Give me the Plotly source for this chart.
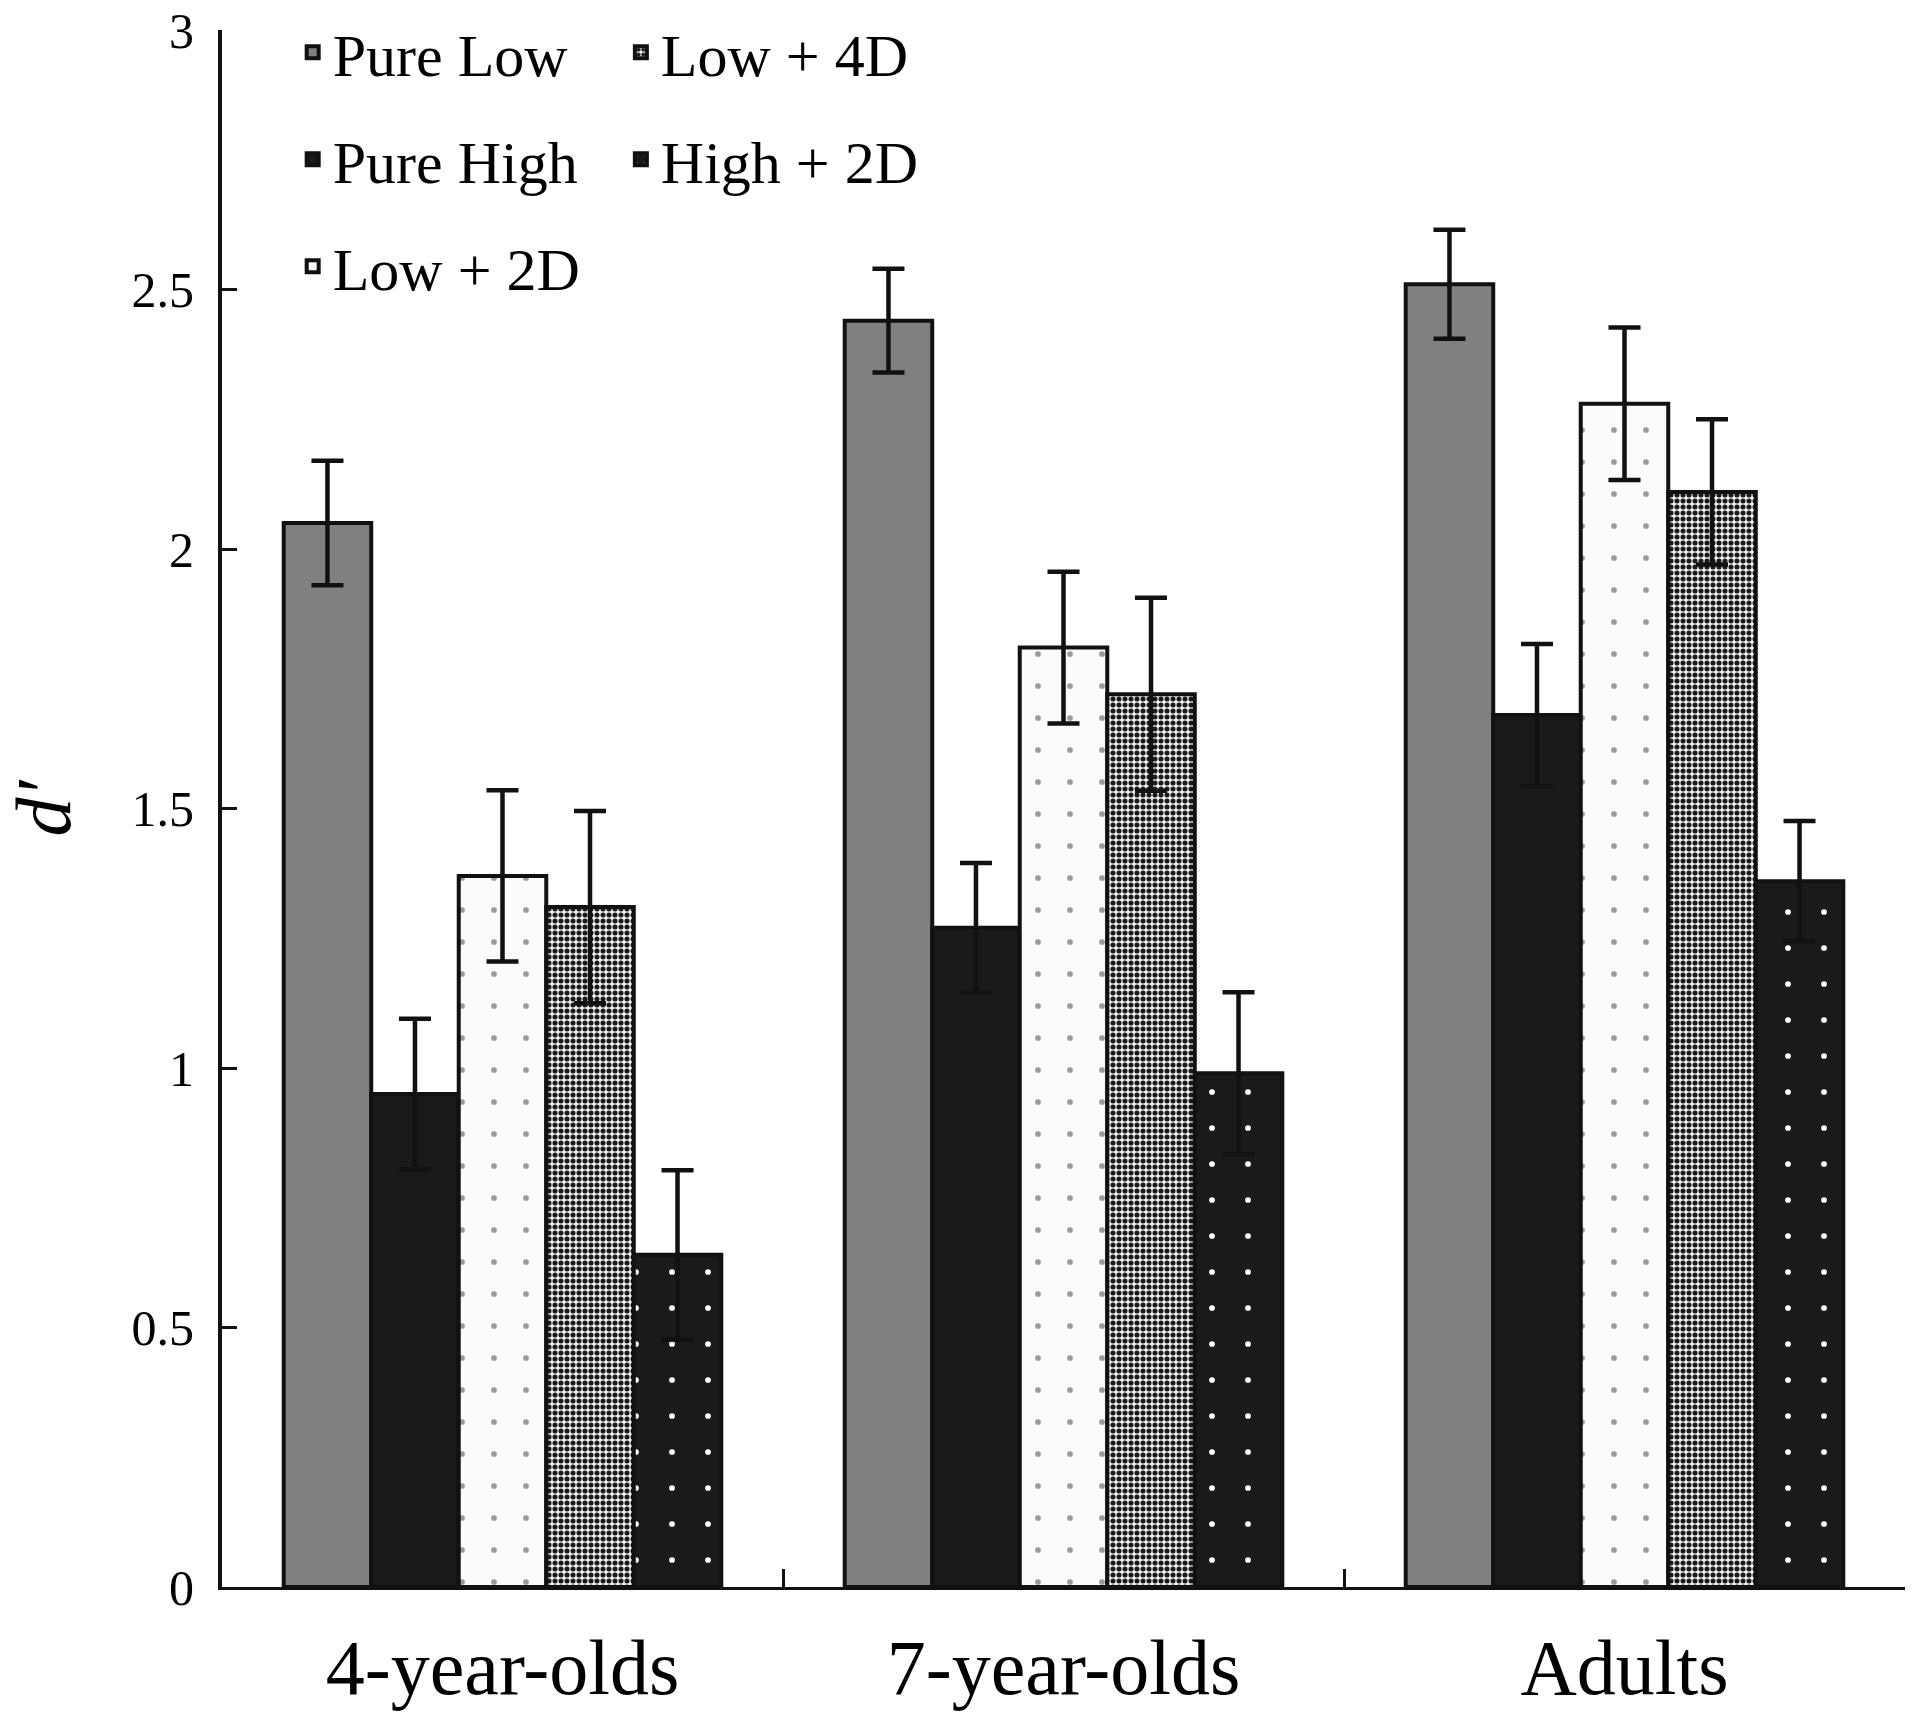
import plotly.graph_objects as go

# age groups on the x axis
groups = ["4-year-olds", "7-year-olds", "Adults"]

# mean d' for each condition
pure_low = [2.05, 2.44, 2.51]
pure_high = [0.95, 1.27, 1.68]
low_2d = [1.37, 1.81, 2.28]
low_4d = [1.31, 1.72, 2.11]
high_2d = [0.64, 0.99, 1.36]

# error bar half-lengths
pure_low_err = [0.12, 0.10, 0.105]
pure_high_err = [0.145, 0.125, 0.137]
low_2d_err = [0.165, 0.146, 0.147]
low_4d_err = [0.185, 0.186, 0.14]
high_2d_err = [0.163, 0.156, 0.116]

y_ticks = [0, 0.5, 1, 1.5, 2, 2.5, 3]

FONT = "Liberation Serif, Times New Roman, serif"
outline = dict(color="#111111", width=4)


def err(vals):
    return dict(type="data", array=vals, color="#111111", thickness=4.5, width=16)


fig = go.Figure()

fig.add_trace(go.Bar(
    x=groups, y=pure_low, name="Pure Low", error_y=err(pure_low_err),
    marker=dict(color="#808080", line=outline),
    legend="legend", legendgroup="a",
))
fig.add_trace(go.Bar(
    x=groups, y=pure_high, name="Pure High", error_y=err(pure_high_err),
    marker=dict(color="#1a1a1a", line=outline),
    legend="legend", legendgroup="b",
))
fig.add_trace(go.Bar(
    x=groups, y=low_2d, name="Low + 2D", error_y=err(low_2d_err),
    marker=dict(
        color="white", line=outline,
        pattern=dict(shape=".", fgcolor="#9a9a9a", bgcolor="#fbfbfb",
                     size=32, solidity=0.025, fillmode="replace"),
    ),
    legend="legend", legendgroup="c",
))
fig.add_trace(go.Bar(
    x=groups, y=low_4d, name="Low + 4D", error_y=err(low_4d_err),
    marker=dict(
        color="white", line=outline,
        pattern=dict(shape=".", fgcolor="#1a1a1a", bgcolor="#f2f2f2",
                     size=6, solidity=0.55, fillmode="replace"),
    ),
    legend="legend2", legendgroup="d",
))
fig.add_trace(go.Bar(
    x=groups, y=high_2d, name="High + 2D", error_y=err(high_2d_err),
    marker=dict(
        color="#1a1a1a", line=outline,
        pattern=dict(shape=".", fgcolor="white", bgcolor="#1a1a1a",
                     size=36, solidity=0.02, fillmode="replace"),
    ),
    legend="legend2", legendgroup="e",
))

legend_style = dict(
    font=dict(family=FONT, size=60, color="black"),
    bgcolor="rgba(0,0,0,0)",
    yanchor="top",
    y=1.015,
    xanchor="left",
    tracegroupgap=26,
    itemwidth=30,
)

fig.update_layout(
    width=1920,
    height=1722,
    paper_bgcolor="white",
    plot_bgcolor="white",
    barmode="group",
    bargap=0.22,
    bargroupgap=0,
    font=dict(family=FONT, color="black"),
    margin=dict(l=222, r=15, t=30, b=135, autoexpand=False),
    legend=dict(x=0.042, **legend_style),
    legend2=dict(x=0.237, **legend_style),
    showlegend=True,
)

fig.update_xaxes(
    showline=True, linecolor="#111111", linewidth=3,
    ticks="inside", tickson="boundaries", ticklen=18, tickwidth=3,
    tickcolor="#111111",
    tickfont=dict(family=FONT, size=78, color="black"),
    ticklabelstandoff=10,
    showgrid=False, zeroline=False,
)

fig.update_yaxes(
    range=[0, 3], tickvals=y_ticks, ticktext=[str(v) for v in y_ticks],
    showline=True, linecolor="#111111", linewidth=4,
    ticks="inside", ticklen=15, tickwidth=3, tickcolor="#111111",
    tickfont=dict(family=FONT, size=50, color="black"),
    ticklabelstandoff=14, ticklabeloverflow="allow",
    showgrid=False, zeroline=False,
    title=dict(text="<i>d′</i>", font=dict(family=FONT, size=78, color="black"),
               standoff=70),
)

# drop the default page margin so the figure sits at the window's corner
fig.write_html(
    "out.html",
    config={"displayModeBar": False},
    post_script="document.body.style.margin = '0';",
)
